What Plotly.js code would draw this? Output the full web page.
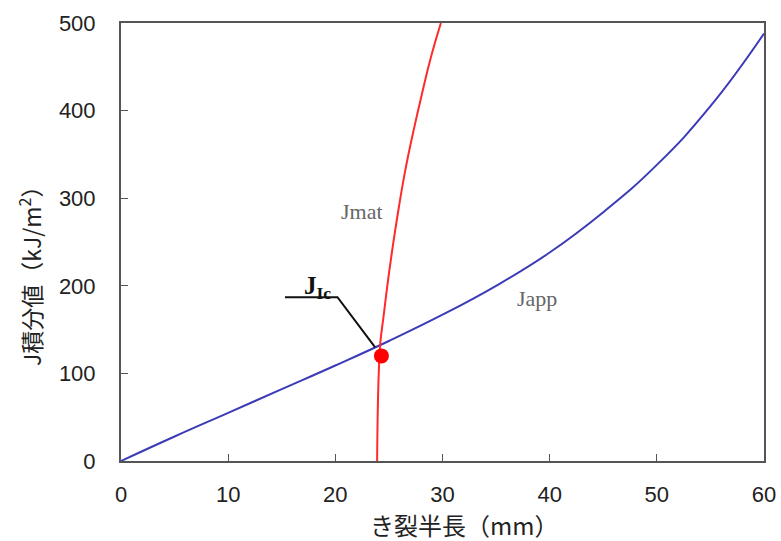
<!DOCTYPE html>
<html>
<head>
<meta charset="utf-8">
<script src="https://cdn.plot.ly/plotly-3.0.1.min.js"></script>
<style>html,body{margin:0;padding:0;background:#fff;}</style>
</head>
<body>
<div id="chart" style="width:781px;height:541px;"></div>
<script>
// Japp curve (applied J-integral vs crack half length)
const jappA = [0, 5, 10, 15, 20, 25, 30, 35, 40, 45, 50, 55, 60];
const jappJ = [0, 28, 55, 82, 109, 137, 167, 200, 238, 284, 338, 405, 488];
// Jmat curve (material resistance)
const jmatA = [23.9, 23.95, 24.05, 24.2, 24.5, 24.85, 25.3, 25.8, 26.5, 27.35, 28.1, 28.9, 29.85];
const jmatJ = [0, 50, 100, 135, 165, 200, 240, 280, 330, 380, 420, 460, 500];
// JIc point
const jicA = [24.3];
const jicJ = [120];
// JIc leader line
const leaderA = [15.3, 20.2, 23.7];
const leaderJ = [187, 187, 130];
// axis ticks
const xTicks = [0, 10, 20, 30, 40, 50, 60];
const yTicks = [0, 100, 200, 300, 400, 500];
// labels
const xTitle = 'き裂半長（mm）';
const yTitle = 'J積分値（kJ/m<sup>2</sup>）';

const traces = [
  {x: jappA, y: jappJ, mode: 'lines', line: {color: '#3b3bb8', width: 2, shape: 'spline', smoothing: 1.3}, hoverinfo: 'skip'},
  {x: jmatA, y: jmatJ, mode: 'lines', line: {color: '#ff2a2a', width: 2, shape: 'spline', smoothing: 1.3}, hoverinfo: 'skip'},
  {x: leaderA, y: leaderJ, mode: 'lines', line: {color: '#111', width: 2}, hoverinfo: 'skip'},
  {x: jicA, y: jicJ, mode: 'markers', marker: {color: '#ff0000', size: 15}, hoverinfo: 'skip'}
];

const tickFont = {family: 'Liberation Sans, Arial, sans-serif', size: 22, color: '#222'};
const axisCommon = {
  showline: true, mirror: true, linecolor: '#555', linewidth: 2,
  ticks: 'inside', ticklen: 7, tickcolor: '#555', tickwidth: 1,
  showgrid: false, zeroline: false, tickfont: tickFont
};

const layout = {
  width: 781, height: 541,
  margin: {l: 121, r: 17, t: 23, b: 80},
  paper_bgcolor: '#fff', plot_bgcolor: '#fff',
  showlegend: false,
  xaxis: Object.assign({}, axisCommon, {range: [0, 60], tickvals: xTicks, ticklabelstandoff: 13}),
  yaxis: Object.assign({}, axisCommon, {range: [0, 500], tickvals: yTicks, ticklabelstandoff: 19}),
  annotations: [
    {text: xTitle, xref: 'paper', yref: 'paper', x: 0.534, y: -0.1, yanchor: 'top', xanchor: 'center', showarrow: false,
     font: {family: 'Noto Sans CJK JP, sans-serif', size: 24, color: '#222'}},
    {text: yTitle, xref: 'paper', yref: 'paper', x: -0.1415, y: 0.436, xanchor: 'center', yanchor: 'middle', textangle: -90, showarrow: false,
     font: {family: 'Noto Sans CJK JP, sans-serif', size: 23, color: '#222'}},
    {text: '<b>J<sub>Ic</sub></b>', x: 18.3, y: 198, xref: 'x', yref: 'y', showarrow: false,
     font: {family: 'Liberation Serif, DejaVu Serif, serif', size: 25, color: '#111'}},
    {text: 'Jmat', x: 22.5, y: 285, xref: 'x', yref: 'y', showarrow: false,
     font: {family: 'Liberation Serif, DejaVu Serif, serif', size: 22, color: '#666'}},
    {text: 'Japp', x: 38.8, y: 186, xref: 'x', yref: 'y', showarrow: false,
     font: {family: 'Liberation Serif, DejaVu Serif, serif', size: 22, color: '#666'}}
  ]
};

Plotly.newPlot('chart', traces, layout, {staticPlot: true, displayModeBar: false});
</script>
</body>
</html>
